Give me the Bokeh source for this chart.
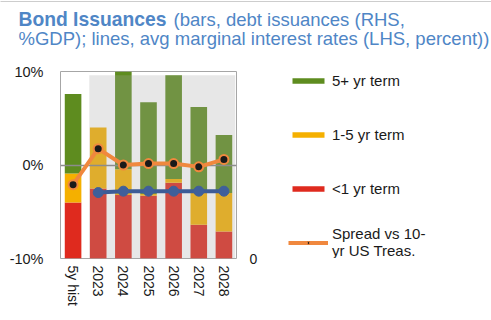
from bokeh.plotting import figure
from bokeh.layouts import column, row
from bokeh.models import (ColumnDataSource, Range1d, LinearAxis, FixedTicker,
                          Legend, LegendItem)
from bokeh.core.properties import value
from bokeh.embed import file_html
from bokeh.resources import INLINE

# ---------------- data ----------------
categories = ["5y hist", "2023", "2024", "2025", "2026", "2027", "2028"]
# debt issuances, % of GDP (RHS, stacked bars)
short_term = [6.0, 7.5, 6.8, 6.7, 8.1, 3.6, 2.9]     # <1 yr term
mid_term = [3.1, 6.5, 2.75, 0.2, 0.4, 3.4, 4.1]      # 1-5 yr term
long_term = [8.5, 0.0, 10.5, 9.8, 11.1, 9.2, 6.2]    # 5+ yr term
# average marginal interest rates, percent (LHS, lines)
spread_10y = [-2.1, 1.75, 0.0, 0.15, 0.15, -0.2, 0.6]
implied_categories = ["2023", "2024", "2025", "2026", "2027", "2028"]
implied_spread = [-2.95, -2.8, -2.8, -2.8, -2.8, -2.8]

lhs_ticks = [-10, 0, 10]
lhs_tick_labels = ["-10%", "0%", "10%"]
rhs_ticks = [0]
rhs_tick_labels = ["0"]

series_labels = ["5+ yr term", "1-5 yr term", "<1 yr term",
                 "Spread vs 10-\nyr US Treas.", "Implied spread,\nLaubach rule 4/"]

title_bold = "Bond Issuances"
title_rest_1 = "(bars, debt issuances (RHS,"
title_rest_2 = "%GDP); lines, avg marginal interest rates (LHS, percent))"

# ---------------- styling ----------------
FONT = "Liberation Sans"
GREEN, ORANGE, RED = "#5E8C1F", "#F5B000", "#DF2A1E"
LINE_ORANGE, LINE_BLUE = "#F0883E", "#3D5C96"
MARK_BLUE = "#3F5F9A"
TITLE_BLUE = "#4F86C6"
TEXT = "#1a1a1a"
W, H = 491, 320
TITLE_H = 56
MAIN_H = H - TITLE_H
MAIN_W = 260
LEG_W = W - MAIN_W
NAN = float("nan")


def bare(fig):
    fig.axis.visible = False
    fig.grid.visible = False
    fig.outline_line_color = None


# ---------------- title strip ----------------
tf = figure(width=W, height=TITLE_H, x_range=Range1d(0, W), y_range=Range1d(0, TITLE_H),
            output_backend="svg", toolbar_location=None, min_border=0)
bare(tf)
tf.hspan(y=[TITLE_H - 0.5], line_color="#9a9a9a", line_width=1, line_dash="1 1")
tf.text(x=[18], y=[TITLE_H - 19.0], text=[title_bold], text_font=value(FONT),
        text_font_size="19.3px", text_font_style="bold", text_color=TITLE_BLUE,
        text_baseline="alphabetic")
tf.text(x=[173], y=[TITLE_H - 19.0], text=[title_rest_1], text_font=value(FONT),
        text_font_size="18.5px", text_color=TITLE_BLUE, text_baseline="alphabetic")
tf.text(x=[18], y=[TITLE_H - 38.0], text=[title_rest_2], text_font=value(FONT),
        text_font_size="18.5px", text_color=TITLE_BLUE, text_baseline="alphabetic")

# ---------------- main chart ----------------
xs = list(range(len(categories)))
idx = {c: i for i, c in enumerate(categories)}

bars = ColumnDataSource(dict(x=xs, short=short_term, mid=mid_term, long=long_term))
spread_src = ColumnDataSource(dict(x=xs, y=spread_10y))
implied_src = ColumnDataSource(dict(x=[idx[c] for c in implied_categories], y=implied_spread))

top_border = 71 - TITLE_H
p = figure(width=MAIN_W, height=MAIN_H,
           x_range=Range1d(-0.5, len(categories) - 0.5),
           y_range=Range1d(lhs_ticks[0], lhs_ticks[-1]),
           output_backend="svg", toolbar_location=None,
           min_border_left=60, min_border_right=MAIN_W - 60 - 179,
           min_border_top=top_border, min_border_bottom=MAIN_H - top_border - 187)
p.extra_y_ranges = {"rhs": Range1d(0, 20)}
p.outline_line_color = "#a6a6a6"
p.xgrid.visible = False
p.ygrid.visible = False

bar_rs = p.vbar_stack(["short", "mid", "long"], x="x", width=0.66,
                      color=[RED, ORANGE, GREEN], line_color=None,
                      source=bars, y_range_name="rhs")
# projection-period shading, semi-transparent over the bars
p.quad(left=0.645, right=6.45, bottom=0, top=19.6, y_range_name="rhs",
       fill_color="#a6a6a6", fill_alpha=0.27, line_color=None)
p.hspan(y=[0], line_color="#8c8c8c", line_width=1.5)

p.line("x", "y", source=spread_src, line_color=LINE_ORANGE, line_width=4)
p.scatter("x", "y", source=spread_src, size=9, fill_color="#1a1a1a",
          line_color=LINE_ORANGE, line_width=2)
p.line("x", "y", source=implied_src, line_color=LINE_BLUE, line_width=4)
p.scatter("x", "y", source=implied_src, size=10, fill_color=MARK_BLUE, line_color=MARK_BLUE)


def style_axis(ax, standoff, size="14px"):
    ax.axis_line_color = None
    ax.major_tick_line_color = None
    ax.minor_tick_line_color = None
    ax.major_tick_out = 0
    ax.major_tick_in = 0
    ax.major_label_standoff = standoff
    ax.major_label_text_font = FONT
    ax.major_label_text_font_size = size
    ax.major_label_text_color = TEXT


ya = p.yaxis[0]
ya.ticker = FixedTicker(ticks=lhs_ticks)
ya.major_label_overrides = dict(zip(lhs_ticks, lhs_tick_labels))
style_axis(ya, 17, "14.5px")

xa = p.xaxis[0]
xa.ticker = FixedTicker(ticks=xs)
xa.major_label_overrides = {i: c for i, c in enumerate(categories)}
xa.major_label_orientation = "vertical"
style_axis(xa, 7)

ra = LinearAxis(y_range_name="rhs", ticker=FixedTicker(ticks=rhs_ticks))
ra.major_label_overrides = dict(zip(rhs_ticks, rhs_tick_labels))
style_axis(ra, 13)
p.add_layout(ra, "right")

# ---------------- legend panel (legend keys styled like the chart's series) ----------------
lf = figure(width=LEG_W, height=MAIN_H, x_range=Range1d(0, LEG_W), y_range=Range1d(0, MAIN_H),
            output_backend="svg", toolbar_location=None, min_border=0)
bare(lf)
k_green = lf.vbar(x=[NAN], top=[NAN], width=1, color=GREEN, line_color=None)
k_orange = lf.vbar(x=[NAN], top=[NAN], width=1, color=ORANGE, line_color=None)
k_red = lf.vbar(x=[NAN], top=[NAN], width=1, color=RED, line_color=None)
k_sl = lf.line(x=[NAN], y=[NAN], line_color=LINE_ORANGE, line_width=4)
k_sm = lf.scatter(x=[NAN], y=[NAN], size=6, fill_color="#1a1a1a",
                  line_color=LINE_ORANGE, line_width=1)
k_il = lf.line(x=[NAN], y=[NAN], line_color=LINE_BLUE, line_width=4)
k_im = lf.scatter(x=[NAN], y=[NAN], size=5, fill_color=MARK_BLUE, line_color=MARK_BLUE)

legend = Legend(items=[
    LegendItem(label=series_labels[0], renderers=[k_green]),
    LegendItem(label=series_labels[1], renderers=[k_orange]),
    LegendItem(label=series_labels[2], renderers=[k_red]),
    LegendItem(label=series_labels[3], renderers=[k_sl, k_sm]),
    LegendItem(label=series_labels[4], renderers=[k_il, k_im]),
], location=(28, -58))
legend.glyph_width = 40
legend.glyph_height = 7
legend.label_height = 40
legend.label_standoff = 4
legend.spacing = 14
legend.padding = 0
legend.margin = 0
legend.border_line_color = None
legend.background_fill_alpha = 0
legend.label_text_font = FONT
legend.label_text_font_size = "15px"
legend.label_text_color = TEXT
legend.label_text_line_height = 1.3
lf.add_layout(legend, "center")

layout = column(tf, row(p, lf, spacing=0), spacing=0)
open("out.html", "w").write(file_html(layout, INLINE))
